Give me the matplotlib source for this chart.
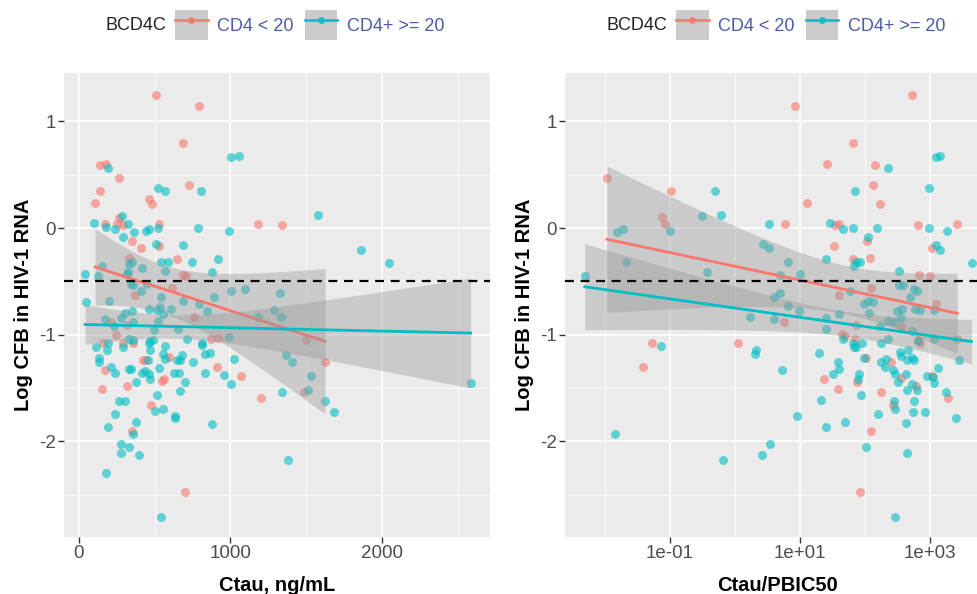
import numpy as np
import matplotlib
matplotlib.use('Agg')
import matplotlib.pyplot as plt
from matplotlib.lines import Line2D
from matplotlib.patches import Patch
from matplotlib.legend_handler import HandlerTuple
from matplotlib.ticker import FixedLocator, NullFormatter

plt.rcParams['font.family'] = ['Liberation Sans', 'DejaVu Sans']
plt.rcParams['axes.unicode_minus'] = False

RED = '#F8766D'
CYAN = '#00BFC4'

groups = ['CD4 < 20', 'CD4+ >= 20']
legend_title = 'BCD4C'

# ---- left panel: Ctau, ng/mL
ctau_red = [508, 794, 688, 141, 180, 266, 141, 726, 106, 464,
            484, 172, 249, 262, 288, 530, 1182, 1342, 350, 407,
            530, 645, 330, 686, 708, 370, 616, 757, 209, 319,
            246, 158, 292, 358, 869, 917, 422, 444, 596, 172,
            913, 1067, 561, 546, 319, 150, 1199, 473, 348, 700,
            1498, 1624, 1485]
cfb_red = [1.25, 1.15, 0.80, 0.59, 0.60, 0.47, 0.35, 0.40, 0.24, 0.27,
           0.23, 0.04, 0.04, 0.09, 0.03, 0.04, 0.04, 0.03, -0.12, -0.19,
           -0.17, -0.29, -0.28, -0.44, -0.45, -0.63, -0.56, -0.83, -0.88, -0.91,
           -1.00, -1.08, -1.08, -1.08, -1.04, -1.03, -1.24, -1.24, -1.21, -1.33,
           -1.30, -1.39, -1.42, -1.43, -1.48, -1.51, -1.59, -1.66, -1.90, -2.48,
           -1.05, -1.26, -1.54]

ctau_cyan = [1001, 1058, 189, 519, 568, 803, 1578, 97, 180, 240,
             284, 321, 293, 361, 442, 464, 521, 785, 990, 508,
             688, 1861, 2048, 539, 587, 746, 918, 152, 350, 332,
             321, 315, 418, 568, 878, 40, 123, 343, 354, 447,
             407, 539, 889, 686, 1001, 1096, 1325, 46, 198, 790,
             464, 513, 533, 607, 557, 843, 1285, 1333, 1182, 304,
             275, 352, 172, 231, 358, 519, 651, 493, 711, 992,
             114, 132, 132, 194, 187, 293, 330, 359, 209, 238,
             328, 341, 378, 462, 471, 490, 466, 455, 418, 438,
             460, 466, 513, 530, 568, 557, 570, 502, 557, 634,
             634, 647, 668, 680, 627, 660, 702, 665, 755, 812,
             812, 830, 863, 834, 878, 957, 1001, 1023, 266, 304,
             238, 378, 359, 189, 275, 332, 275, 398, 178, 539,
             1368, 1408, 1340, 1380, 1529, 1514, 1624, 1681, 2585]
cfb_cyan = [0.67, 0.68, 0.56, 0.38, 0.35, 0.35, 0.12, 0.05, 0.01, -0.01,
            0.11, 0.04, -0.08, -0.04, -0.03, -0.01, 0.00, 0.00, -0.03, -0.15,
            -0.16, -0.21, -0.33, -0.32, -0.32, -0.32, -0.29, -0.36, -0.32, -0.34,
            -0.41, -0.43, -0.37, -0.40, -0.41, -0.43, -0.45, -0.52, -0.53, -0.52,
            -0.59, -0.65, -0.65, -0.68, -0.59, -0.57, -0.61, -0.69, -0.68, -0.71,
            -0.76, -0.77, -0.74, -0.76, -0.81, -0.78, -0.77, -0.83, -0.83, -0.80,
            -0.84, -0.78, -0.85, -0.92, -0.88, -0.87, -0.95, -0.96, -1.04, -1.02,
            -1.12, -1.22, -1.26, -1.08, -1.14, -1.12, -1.04, -1.05, -1.30, -1.36,
            -1.32, -1.32, -1.44, -1.08, -1.06, -1.05, -1.14, -1.24, -1.36, -1.34,
            -1.37, -1.42, -1.57, -1.31, -1.11, -1.18, -1.23, -1.72, -1.70, -1.76,
            -1.78, -1.24, -1.24, -1.19, -1.36, -1.36, -1.44, -1.53, -1.26, -1.08,
            -1.10, -1.18, -1.17, -1.36, -1.84, -1.38, -1.46, -1.23, -1.62, -1.62,
            -1.74, -1.82, -1.93, -1.87, -2.03, -2.05, -2.11, -2.13, -2.30, -2.71,
            -1.19, -1.26, -1.54, -2.18, -1.39, -1.52, -1.62, -1.73, -1.45]

# ---- right panel: Ctau/PBIC50, stored as log10 of the ratio
lratio_red = [-1.97, -0.98, -1.12, -1.07, 0.93, 2.72, 1.82, 1.42, 2.16, 2.12,
              2.23, 1.11, 0.77, 1.54, 1.60, 2.82, 3.42, 1.53, 2.03, 2.08,
              1.82, 3.03, 2.83, 3.00, 1.60, 2.10, 3.09, 0.75, 1.86, 2.55,
              2.82, 2.85, 1.64, 1.70, 1.85, 2.02, 2.40, 1.37, 1.59, 2.25,
              1.88, 2.55, 2.78, 3.03, 3.28, -1.27, -1.42, 0.05, 2.10, 1.92,
              2.43, 3.42]
cfb2_red = [0.47, 0.35, 0.10, 0.04, 1.15, 1.25, 0.80, 0.60, 0.59, 0.40,
            0.23, 0.24, 0.04, 0.03, 0.04, 0.03, 0.04, -0.17, -0.12, -0.28,
            -0.29, -0.19, -0.44, -0.45, -0.63, -0.56, -0.71, -0.88, -0.91, -0.93,
            -1.05, -1.08, -0.99, -1.01, -1.04, -1.22, -1.26, -1.42, -1.51, -1.54,
            -1.44, -1.41, -1.48, -1.39, -1.59, -1.08, -1.30, -1.08, -1.90, -2.48,
            -1.66, -1.04]

lratio_cyan = [-2.31, -1.82, -1.73, -1.67, -1.00, -0.50, -0.30, -0.21, -0.43, 0.43,
               0.52, 0.52, 0.82, 0.70, 1.00, 0.60, 0.70, 0.82, 0.98, 0.23,
               0.60, 1.40, 1.46, 1.66, 1.82, 1.84, 2.36, 2.18, 2.05, 1.83,
               1.86, 1.92, 2.98, 3.10, 3.16, 2.98, 3.27, 3.10, 3.15, 3.64,
               2.52, 2.53, 2.59, 2.75, 2.80, 2.69, 2.49, 2.57, 2.77, 2.85,
               3.06, 2.36, 2.45, 1.77, 1.98, 2.05, 2.12, 2.06, 1.40, 1.60,
               1.40, 2.55, 2.23, 2.73, 2.81, 3.07, 3.44, 1.95, 1.81, 1.83,
               1.67, 1.29, 1.59, 1.60, 1.51, 0.73, 1.91, 1.90, 1.98, 2.25,
               2.36, 2.24, 2.32, 2.31, 2.43, 2.46, 2.54, 2.56, 2.67, 2.65,
               2.73, 2.76, 2.63, 2.51, 2.73, 2.95, 3.04, 3.13, 3.06, 2.64,
               2.80, 3.25, 1.94, 1.33, -1.14, -1.85, -0.19, 0.31, 0.33, 0.41,
               0.54, 0.95, 1.40, 1.70, 1.86, 2.02, 2.20, 2.45, 2.47, 2.47,
               2.63, 2.64, 2.74, 2.75, 2.93, 3.40]
cfb2_cyan = [-0.45, -0.04, -0.01, -0.32, -0.03, 0.11, 0.35, 0.12, -0.41, -0.15,
             -0.19, 0.04, -0.32, -0.44, -0.43, -0.65, -0.61, -0.73, -0.78, -0.83,
             -0.85, -0.29, 0.05, -0.01, 0.00, 0.35, 0.56, 0.00, -0.08, -0.36,
             -0.32, -0.32, 0.38, 0.67, 0.68, 0.00, -0.03, -0.16, -0.21, -0.33,
             -0.40, -0.53, -0.53, -0.57, -0.59, -0.65, -0.78, -0.76, -0.76, -0.77,
             -0.77, -0.87, -0.88, -0.59, -0.71, -0.68, -0.69, -0.80, -0.84, -0.81,
             -0.95, -0.84, -0.92, -0.97, -1.06, -1.04, -1.24, -1.08, -1.08, -1.12,
             -1.04, -1.17, -1.26, -1.32, -1.37, -1.33, -1.37, -1.42, -1.22, -1.08,
             -1.04, -1.26, -1.23, -1.30, -1.33, -1.37, -1.16, -1.20, -1.14, -1.24,
             -1.22, -1.24, -1.37, -1.44, -1.46, -1.39, -1.40, -1.31, -1.45, -1.52,
             -1.52, -1.54, -1.57, -1.61, -1.11, -1.93, -2.18, -1.18, -1.14, -2.13,
             -2.03, -1.76, -1.87, -1.82, -1.12, -2.05, -1.74, -1.62, -1.70, -2.71,
             -1.83, -2.11, -1.73, -1.62, -1.73, -1.78]

threshold = -0.5


def t975(df):
    # Cornish-Fisher approximation of the 97.5% t quantile
    z = 1.959964
    return z + (z**3 + z) / (4 * df) + (5 * z**5 + 16 * z**3 + 3 * z) / (96 * df**2)


def lm_band(x, y, n=80):
    x = np.asarray(x, float)
    y = np.asarray(y, float)
    b1, b0 = np.polyfit(x, y, 1)
    xs = np.linspace(x.min(), x.max(), n)
    fit = b0 + b1 * xs
    df = len(x) - 2
    s = np.sqrt(np.sum((y - (b0 + b1 * x)) ** 2) / df)
    se = s * np.sqrt(1 / len(x) + (xs - x.mean()) ** 2 / np.sum((x - x.mean()) ** 2))
    return xs, fit, fit - t975(df) * se, fit + t975(df) * se


fig = plt.figure(figsize=(9.77, 5.94), dpi=100)
W, H = 977, 594
ax1 = fig.add_axes([64 / W, 1 - 537 / H, 426 / W, 464 / H])
ax2 = fig.add_axes([565 / W, 1 - 537 / H, 426 / W, 464 / H])

panels = [
    (ax1, [ctau_red, ctau_cyan], [cfb_red, cfb_cyan], False, 'Ctau, ng/mL'),
    (ax2, [lratio_red, lratio_cyan], [cfb2_red, cfb2_cyan], True, 'Ctau/PBIC50'),
]

for ax, xs_list, ys_list, logx, xlab in panels:
    ax.set_facecolor('#EBEBEB')
    for sp in ax.spines.values():
        sp.set_visible(False)
    ax.set_axisbelow(True)

    for xv, yv, col in zip(xs_list, ys_list, [RED, CYAN]):
        xp = 10 ** np.asarray(xv) if logx else xv
        ax.scatter(xp, yv, s=42, color=col, alpha=0.6, linewidths=0, zorder=2)

    for xv, yv, col in zip(xs_list, ys_list, [RED, CYAN]):
        gx, fit, lo, hi = lm_band(xv, yv)
        if logx:
            gx = 10 ** gx
        ax.fill_between(gx, lo, hi, color='#999999', alpha=0.4, linewidth=0, zorder=3)
        ax.plot(gx, fit, color=col, lw=2, zorder=3)

    ax.axhline(threshold, color='black', lw=1.6, dashes=(4, 3), zorder=4)

    ax.set_ylim(-2.898, 1.455)
    ax.set_yticks([-2, -1, 0, 1])
    ax.yaxis.set_minor_locator(FixedLocator([-2.5, -1.5, -0.5, 0.5]))
    if logx:
        ax.set_xscale('log')
        ax.set_xlim(10 ** -2.615, 10 ** 3.94)
        ax.set_xticks([1e-1, 1e1, 1e3])
        ax.set_xticklabels(['1e-01', '1e+01', '1e+03'])
        ax.xaxis.set_minor_locator(FixedLocator([1e-2, 1e0, 1e2]))
        ax.xaxis.set_minor_formatter(NullFormatter())
    else:
        ax.set_xlim(-99, 2713)
        ax.set_xticks([0, 1000, 2000])
        ax.xaxis.set_minor_locator(FixedLocator([500, 1500, 2500]))

    ax.grid(which='major', color='white', lw=1.2)
    ax.grid(which='minor', color='white', lw=0.6)
    ax.tick_params(which='major', length=4, width=1, color='#333333',
                   labelsize=13.5, labelcolor='#4D4D4D', pad=2)
    ax.tick_params(which='minor', length=0)

    ax.set_xlabel(xlab, fontsize=14.5, fontweight='bold')
    ax.set_ylabel('Log CFB in HIV-1 RNA', fontsize=14.5, fontweight='bold')
    ax.yaxis.set_label_coords(-0.073, 0.5)
    ax.xaxis.set_label_coords(0.5, -0.083)

    # legend above each panel
    bb = ax.get_position()
    handles = [(Patch(facecolor='#CBCBCB', edgecolor='none'),
                Line2D([], [], color=c, lw=2, marker='o', ms=5,
                       markerfacecolor=c, markeredgewidth=0, alpha=0.9))
               for c in [RED, CYAN]]
    x_key = bb.x0 + 111 / W
    leg = fig.legend(handles, groups, loc='center left',
                     bbox_to_anchor=(x_key, 1 - 25 / H), ncol=2, frameon=False,
                     fontsize=13, borderpad=0, borderaxespad=0,
                     handlelength=1.8, handleheight=2.25, handletextpad=0.55,
                     columnspacing=0.6,
                     handler_map={tuple: HandlerTuple(ndivide=1, pad=0)})
    for t in leg.get_texts():
        t.set_color('#4A5BAB')
    fig.text(x_key - 9 / W, 1 - 26 / H, legend_title, ha='right', va='center',
             fontsize=13, color='#222222')

fig.savefig('out.png', dpi=100)
